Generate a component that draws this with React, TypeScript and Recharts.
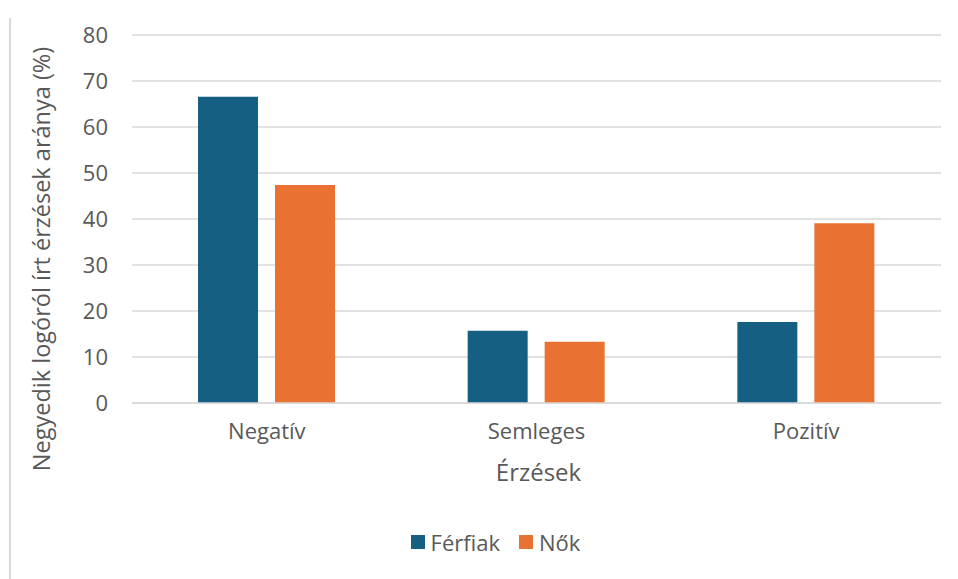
import { Bar, BarChart, CartesianGrid, Legend, XAxis, YAxis } from 'recharts'

const categories = ['Negatív', 'Semleges', 'Pozitív']
const ferfiak = [66.6, 15.7, 17.6]
const nok = [47.4, 13.3, 39.1]
const yTicks = [0, 10, 20, 30, 40, 50, 60, 70, 80]

const data = categories.map((name, i) => ({ name, ferfiak: ferfiak[i], nok: nok[i] }))

const FONT = '"Open Sans", sans-serif'
const TEXT = '#595959'

function YTitle() {
  const cx = 41
  const cy = 259
  return (
    <text x={cx} y={cy} transform={`rotate(-90 ${cx} ${cy})`} textAnchor="middle" dominantBaseline="central"
      fill={TEXT} fontSize={23.5} fontFamily={FONT}>
      Negyedik logóról írt érzések aránya (%)
    </text>
  )
}

function XTitle(props: any) {
  const vb = props.viewBox || {}
  return (
    <text x={vb.x + vb.width / 2 + 2} y={471} textAnchor="middle" dominantBaseline="central"
      fill={TEXT} fontSize={24} fontFamily={FONT}>
      Érzések
    </text>
  )
}

function LegendBox(props: any) {
  const items = props.payload || []
  return (
    <div style={{ display: 'flex', justifyContent: 'center', alignItems: 'center', paddingLeft: 50 }}>
      {items.map((it: any, i: number) => (
        <div key={i} style={{ display: 'flex', alignItems: 'center', marginRight: i < items.length - 1 ? 19 : 0 }}>
          <span style={{ width: 14, height: 14, background: it.color, marginRight: 6, display: 'inline-block' }} />
          <span style={{ color: TEXT, fontSize: 22, fontFamily: FONT }}>{it.value}</span>
        </div>
      ))}
    </div>
  )
}

export default function App() {
  return (
    <div style={{ position: 'absolute', left: 0, top: 0, width: 958, height: 579, background: '#fff' }}>
      <div style={{ position: 'absolute', left: 9, top: 18, width: 2, height: 561, background: '#d9d9d9' }} />
      <BarChart width={958} height={579} data={data} barSize={60} barGap={17}
        margin={{ top: 35, right: 17, left: 0, bottom: 22 }}>
        <CartesianGrid vertical={false} stroke="#d9d9d9" strokeWidth={1.5} />
        <XAxis dataKey="name" height={124} axisLine={{ stroke: '#d9d9d9', strokeWidth: 1.5 }} tickLine={false}
          tickMargin={14} tick={{ fill: TEXT, fontSize: 22, fontFamily: FONT }} label={<XTitle />} />
        <YAxis width={132} domain={[0, 80]} ticks={yTicks} axisLine={false} tickLine={false} tickMargin={18}
          tick={{ fill: TEXT, fontSize: 22, fontFamily: FONT }} label={<YTitle />} />
        <Legend verticalAlign="bottom" content={<LegendBox />} />
        <Bar dataKey="ferfiak" name="Férfiak" fill="#156082" isAnimationActive={false} />
        <Bar dataKey="nok" name="Nők" fill="#E97132" isAnimationActive={false} />
      </BarChart>
    </div>
  )
}
